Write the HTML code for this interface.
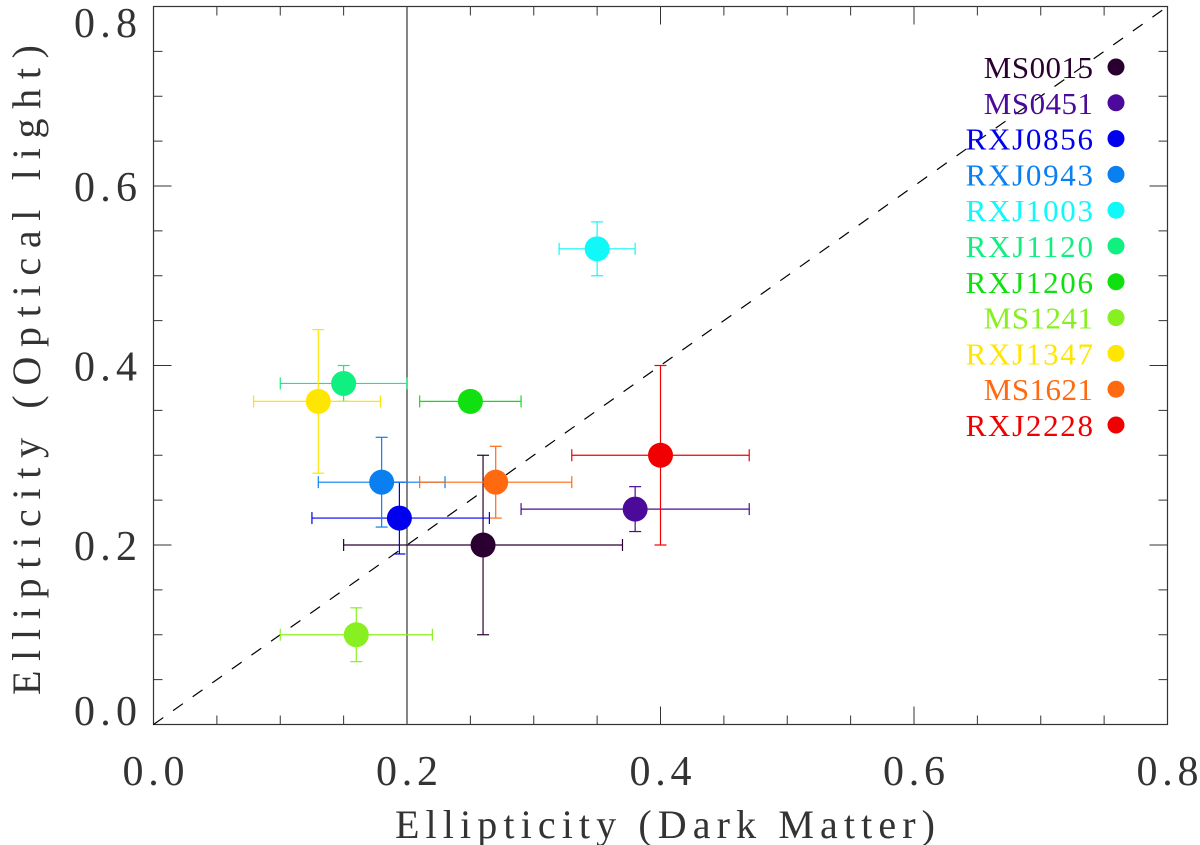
<!DOCTYPE html>
<html><head><meta charset="utf-8"><style>
body{margin:0;background:#fff;}
svg{display:block;font-family:"Liberation Serif",serif;}
</style></head><body>
<svg id="chart" width="1200" height="845" viewBox="0 0 1200 845">
<g id="axes"></g>
<g id="marks"></g>
<g id="legend"></g>
<text x="665" y="838" font-size="40" text-anchor="middle" fill="#333" textLength="540" lengthAdjust="spacing">Ellipticity (Dark Matter)</text>
<text transform="translate(40,370) rotate(-90)" font-size="40" text-anchor="middle" fill="#333" textLength="650" lengthAdjust="spacing">Ellipticity (Optical light)</text>
</svg>
<script>
const names=["MS0015","MS0451","RXJ0856","RXJ0943","RXJ1003","RXJ1120","RXJ1206","MS1241","RXJ1347","MS1621","RXJ2228"];
const colors=["#2a0030","#4b0a9a","#0000ee","#0a80f0","#10f8f8","#10f080","#10e010","#88f020","#ffe600","#ff6a10","#f00000"];
const xVals=[0.26,0.38,0.194,0.18,0.35,0.15,0.25,0.16,0.13,0.27,0.40];
const xLo=[0.15,0.29,0.125,0.13,0.32,0.10,0.21,0.10,0.079,0.21,0.33];
const xHi=[0.37,0.47,0.265,0.23,0.38,0.20,0.29,0.22,0.179,0.33,0.47];
const yVals=[0.20,0.24,0.23,0.27,0.53,0.38,0.36,0.10,0.36,0.27,0.30];
const yLo=[0.10,0.215,0.19,0.22,0.50,0.36,0.36,0.07,0.28,0.23,0.20];
const yHi=[0.30,0.265,0.27,0.32,0.56,0.40,0.36,0.13,0.44,0.31,0.40];
const xTicks=[0,0.2,0.4,0.6,0.8];
const yTicks=[0,0.2,0.4,0.6,0.8];
const tickLabels=["0.0","0.2","0.4","0.6","0.8"];
const X0=153.5,X1=1167.5,Y0=724.5,Y1=6.5;
const sx=v=>X0+(X1-X0)*v/0.8, sy=v=>Y0-(Y0-Y1)*v/0.8;
const NS="http://www.w3.org/2000/svg";
function mk(t,a,p){const e=document.createElementNS(NS,t);for(const k in a)e.setAttribute(k,a[k]);p.appendChild(e);return e;}
const ax=document.getElementById('axes');
const frame=mk('rect',{x:X0,y:Y1,width:X1-X0,height:Y0-Y1,fill:'none',stroke:'#333','stroke-width':1.2},ax);


for(let i=0;i<=16;i++){const v=i*0.05,maj=i%4==0,L=maj?18:9;
 const x=sx(v),y=sy(v);
 mk('line',{x1:x,y1:Y0,x2:x,y2:Y0-L,stroke:'#333'},ax);
 mk('line',{x1:x,y1:Y1,x2:x,y2:Y1+L,stroke:'#333'},ax);
 mk('line',{x1:X0,y1:y,x2:X0+L,y2:y,stroke:'#333'},ax);
 mk('line',{x1:X1,y1:y,x2:X1-L,y2:y,stroke:'#333'},ax);}
xTicks.forEach((v,i)=>{const t=mk('text',{x:sx(v),y:785,'font-size':42,'text-anchor':'middle',fill:'#333',textLength:62,lengthAdjust:'spacing'},ax);t.textContent=tickLabels[i];

});
yTicks.forEach((v,i)=>{const c=Math.min(Math.max(sy(v),22),710);const t=mk('text',{x:137,y:c+15,'font-size':42,'text-anchor':'end',fill:'#333',textLength:63,lengthAdjust:'spacing'},ax);t.textContent=tickLabels[i];

});
const vl=mk('line',{x1:sx(0.2),y1:Y0,x2:sx(0.2),y2:Y1,stroke:'#444','stroke-width':1.3},ax);


const dl=mk('line',{x1:sx(0),y1:sy(0),x2:sx(0.8),y2:sy(0.8),stroke:'#000','stroke-width':1.2,'stroke-dasharray':'12 12'},ax);


const mg=document.getElementById('marks');
names.forEach((n,i)=>{const g=mk('g',{},mg);
 
 
 const c=colors[i],x=sx(xVals[i]),y=sy(yVals[i]);
 mk('line',{x1:sx(xLo[i]),y1:y,x2:sx(xHi[i]),y2:y,stroke:c,'stroke-width':1.2},g);
 mk('line',{x1:sx(xLo[i]),y1:y-6,x2:sx(xLo[i]),y2:y+6,stroke:c,'stroke-width':1.2},g);
 mk('line',{x1:sx(xHi[i]),y1:y-6,x2:sx(xHi[i]),y2:y+6,stroke:c,'stroke-width':1.2},g);
 if(yHi[i]>yLo[i]){
 mk('line',{x1:x,y1:sy(yLo[i]),x2:x,y2:sy(yHi[i]),stroke:c,'stroke-width':1.2},g);
 mk('line',{x1:x-6,y1:sy(yLo[i]),x2:x+6,y2:sy(yLo[i]),stroke:c,'stroke-width':1.2},g);
 mk('line',{x1:x-6,y1:sy(yHi[i]),x2:x+6,y2:sy(yHi[i]),stroke:c,'stroke-width':1.2},g);}
 mk('circle',{cx:x,cy:y,r:12.5,fill:c},g);
});
const lg=document.getElementById('legend');
names.forEach((n,i)=>{const y=67+i*35.8;
 const t=mk('text',{x:1093,y:y+11,'font-size':31,'text-anchor':'end',fill:colors[i],textLength:n.length*18.2,lengthAdjust:'spacing'},lg);t.textContent=n;
 
 
 mk('circle',{cx:1116,cy:y,r:8.5,fill:colors[i]},lg);});
</script>
</body></html>
